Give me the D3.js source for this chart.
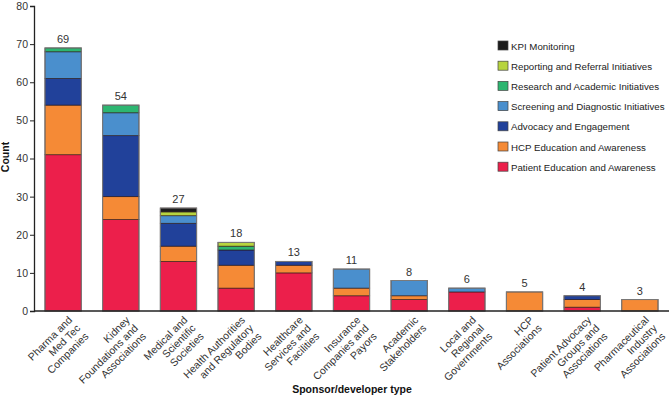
<!DOCTYPE html>
<html>
<head>
<meta charset="utf-8">
<title>Count by sponsor/developer type</title>
<script src="https://cdn.jsdelivr.net/npm/d3@7"></script>
<style>
  body { margin: 0; background: #fff; }
  svg { font-family: "Liberation Sans", Arial, sans-serif; }
</style>
</head>
<body>
<svg id="chart"></svg>
<script>
// sponsor types, one array of lines per label
var categories = [
  ["Pharma and", "Med Tec", "Companies"],
  ["Kidney", "Foundations and", "Associations"],
  ["Medical and", "Scientific", "Societies"],
  ["Health Authorities", "and Regulatory", "Bodies"],
  ["Healthcare", "Services and", "Facilities"],
  ["Insurance", "Companies and", "Payors"],
  ["Academic", "Stakeholders"],
  ["Local and", "Regional", "Governments"],
  ["HCP", "Associations"],
  ["Patient Advocacy", "Groups and", "Associations"],
  ["Pharmaceutical", "Industry", "Associations"]
];

// series, stacking order bottom -> top
var seriesNames = [
  "Patient Education and Awareness",
  "HCP Education and Awareness",
  "Advocacy and Engagement",
  "Screening and Diagnostic Initiatives",
  "Research and Academic Initiatives",
  "Reporting and Referral Initiatives",
  "KPI Monitoring"
];
var patientEdu  = [41, 24, 13, 6, 10, 4, 3, 5, 0, 1, 0];
var hcpEdu      = [13,  6,  4, 6,  2, 2, 1, 0, 5, 2, 3];
var advocacy    = [ 7, 16,  6, 4,  1, 0, 0, 0, 0, 1, 0];
var screening   = [ 7,  6,  2, 0,  0, 5, 4, 1, 0, 0, 0];
var research    = [ 1,  2,  0, 1,  0, 0, 0, 0, 0, 0, 0];
var reporting   = [ 0,  0,  1, 1,  0, 0, 0, 0, 0, 0, 0];
var kpi         = [ 0,  0,  1, 0,  0, 0, 0, 0, 0, 0, 0];
var seriesValues = [patientEdu, hcpEdu, advocacy, screening, research, reporting, kpi];

var yTicks = [0, 10, 20, 30, 40, 50, 60, 70, 80];

var colors = ["#ec1f4b", "#f58a36", "#21419a", "#4a8fcd", "#2db671", "#b7d43f", "#1c1c1c"];

var width = 669, height = 398;
var margin = {top: 6, left: 34, right: 0, bottom: 87};

var svg = d3.select("#chart")
    .attr("width", width)
    .attr("height", height);

var keys = categories.map(function(c, i) { return "c" + i; });

// build rows for d3.stack
var rows = keys.map(function(k, i) {
  var r = {key: k};
  seriesNames.forEach(function(s, j) { r[s] = seriesValues[j][i]; });
  return r;
});
var stacked = d3.stack().keys(seriesNames)(rows);

var x = d3.scaleBand()
    .domain(keys)
    .range([margin.left, width - margin.right])
    .paddingInner(0.37)
    .paddingOuter(0.19);

var y = d3.scaleLinear()
    .domain([0, 80])
    .range([height - margin.bottom, margin.top]);

// bars
svg.append("g").selectAll("g")
  .data(stacked)
  .enter().append("g")
    .attr("fill", function(d, i) { return colors[i]; })
  .selectAll("rect")
  .data(function(d) { return d.filter(function(p) { return p[1] > p[0]; }); })
  .enter().append("rect")
    .attr("x", function(d) { return x(d.data.key); })
    .attr("y", function(d) { return y(d[1]); })
    .attr("width", x.bandwidth())
    .attr("height", function(d) { return y(d[0]) - y(d[1]); })
    .attr("stroke", "rgba(40,20,20,0.75)")
    .attr("stroke-width", 0.8);

// outline + totals
var totals = keys.map(function(k, i) {
  return d3.sum(seriesValues, function(s) { return s[i]; });
});

svg.append("g").selectAll("rect")
  .data(keys)
  .enter().append("rect")
    .attr("x", function(d) { return x(d); })
    .attr("y", function(d, i) { return y(totals[i]); })
    .attr("width", x.bandwidth())
    .attr("height", function(d, i) { return y(0) - y(totals[i]); })
    .attr("fill", "none")
    .attr("stroke", "#7a7a7a")
    .attr("stroke-width", 1);

svg.append("g").selectAll("text")
  .data(keys)
  .enter().append("text")
    .attr("x", function(d) { return x(d) + x.bandwidth() / 2; })
    .attr("y", function(d, i) { return y(totals[i]) - 5; })
    .attr("text-anchor", "middle")
    .attr("font-size", 11)
    .attr("fill", "#333")
    .text(function(d, i) { return totals[i]; });

// y axis
var yAxis = svg.append("g")
    .attr("transform", "translate(" + margin.left + ",0)")
    .call(d3.axisLeft(y).tickValues(yTicks).tickSize(4).tickPadding(2));
yAxis.select(".domain").attr("stroke", "#222").attr("stroke-width", 1.3);
yAxis.selectAll(".tick line").attr("stroke", "#222");
yAxis.selectAll(".tick text")
    .attr("font-size", 10.5)
    .attr("font-family", "Liberation Sans, Arial, sans-serif")
    .attr("fill", "#333");

// x axis line
svg.append("line")
    .attr("x1", margin.left)
    .attr("x2", width)
    .attr("y1", y(0))
    .attr("y2", y(0))
    .attr("stroke", "#222")
    .attr("stroke-width", 1.3);

// rotated multi-line category labels
var lab = svg.append("g").selectAll("text")
  .data(keys)
  .enter().append("text")
    .attr("transform", function(d) {
      return "translate(" + (x(d) + x.bandwidth() / 2 + 3) + "," + (y(0) + 3) + ") rotate(-45)";
    })
    .attr("text-anchor", "end")
    .attr("font-size", 10.5)
    .attr("fill", "#333");

lab.each(function(d, i) {
  var t = d3.select(this);
  categories[i].forEach(function(line, j) {
    t.append("tspan")
      .attr("x", 0)
      .attr("dy", j === 0 ? "0.9em" : "1.1em")
      .text(line);
  });
});

// axis titles
svg.append("text")
    .attr("x", 352)
    .attr("y", 393)
    .attr("text-anchor", "middle")
    .attr("font-size", 10.5)
    .attr("font-weight", "bold")
    .attr("fill", "#111")
    .text("Sponsor/developer type");

svg.append("text")
    .attr("transform", "translate(9," + 157 + ") rotate(-90)")
    .attr("text-anchor", "middle")
    .attr("font-size", 10.5)
    .attr("font-weight", "bold")
    .attr("fill", "#111")
    .text("Count");

// legend, top row is the last series
var legend = svg.append("g")
    .attr("transform", "translate(498,41)");

var legendItems = legend.selectAll("g")
  .data(seriesNames.slice().reverse())
  .enter().append("g")
    .attr("transform", function(d, i) { return "translate(0," + (i * 20.2) + ")"; });

legendItems.append("rect")
    .attr("width", 10)
    .attr("height", 9)
    .attr("fill", function(d) { return colors[seriesNames.indexOf(d)]; })
    .attr("stroke", "#444")
    .attr("stroke-width", 0.7);

legendItems.append("text")
    .attr("x", 13)
    .attr("y", 8.5)
    .attr("font-size", 9.7)
    .attr("fill", "#222")
    .text(function(d) { return d; });
</script>
</body>
</html>
